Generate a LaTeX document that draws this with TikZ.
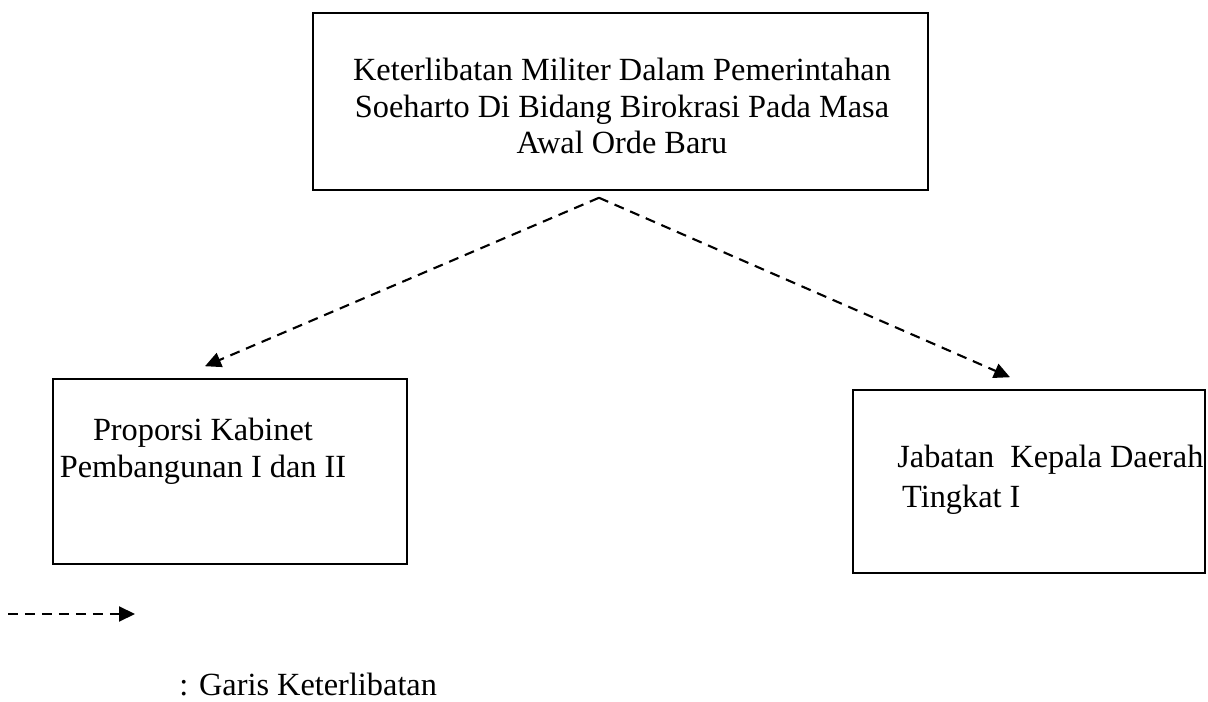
\documentclass[tikz,border=0pt]{standalone}
\usepackage{fontspec}
\setmainfont{Liberation Serif}
\usepackage{tikz}
\usetikzlibrary{
  arrows.meta,
  positioning,
  calc
}

\begin{document}
\begin{tikzpicture}[
  x=0.02cm, y=-0.02cm,
  every node/.style={font=\fontsize{18.4}{21}\selectfont},
  box/.style={
    rectangle, draw, line width=0.9pt, inner sep=0pt
  },
  txt/.style={inner sep=0pt},
  arr/.style={-{Triangle[length=0.32cm, width=0.3cm]}, line width=1.2pt,
    dash pattern=on 0.2cm off 0.14cm},
]
\useasboundingbox (0,0) rectangle (1208,702);

% Boxes
\node[box, minimum width=12.3cm, minimum height=3.54cm] (keterlibatan) at (620.5,101.5) {};
\node[box, minimum width=7.08cm, minimum height=3.7cm] (kabinet) at (230,471.5) {};
\node[box, minimum width=7.04cm, minimum height=3.66cm] (kepala) at (1029,481.5) {};

% Texts
\node[txt, align=center] (keterlibatanText) at (622,106)
  {Keterlibatan Militer Dalam Pemerintahan\\Soeharto Di Bidang Birokrasi Pada Masa\\Awal Orde Baru};
\node[txt, align=center] (kabinetText) at (203,451)
  {Proporsi Kabinet\\Pembangunan I dan II};
\node[txt, align=left, anchor=west, font=\fontsize{18.4}{22.5}\selectfont] (kepalaText) at (897,480)
  {Jabatan\ \ Kepala Daerah\\\hspace{0.15em}Tingkat I};

% Arrows
\draw[arr] ($(keterlibatan.south)+(-21.5,7)$) -- ($(kabinet.north)+(-25,-12)$);
\draw[arr] ($(keterlibatan.south)+(-21.5,7)$) -- ($(kepala.north)+(-19,-12)$);

% Legend
\coordinate (legStart) at (8,614);
\coordinate (legEnd) at (135,614);
\draw[arr] (legStart) -- (legEnd);
\node[txt, anchor=west] (legText) at (179,685) {: Garis Keterlibatan};
\end{tikzpicture}
\end{document}
